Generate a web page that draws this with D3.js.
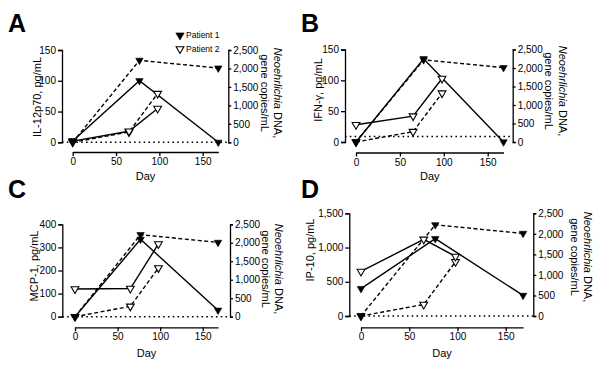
<!DOCTYPE html>
<html><head><meta charset="utf-8">
<script src="https://cdn.jsdelivr.net/npm/d3@7"></script>
<style>
html,body{margin:0;padding:0;background:#fff;}
svg{display:block;font-family:Arial,"Liberation Sans",sans-serif;}
</style></head>
<body>
<svg id="chart" width="600" height="365"></svg>
<script>
// ---- data ----
const days1 = [0, 77, 168];          // Patient 1 sampling days
const days2 = [0, 65, 98];           // Patient 2 sampling days
const dna1 = [0, 2220, 2010];        // Neoehrlichia DNA, Patient 1
const dna2 = [0, 280, 1320];         // Neoehrlichia DNA, Patient 2
const il12p70_1 = [2, 100, 0];
const il12p70_2 = [2, 18, 55];
const ifng_1 = [0, 135, 0];
const ifng_2 = [28, 42, 103];
const mcp1_1 = [0, 335, 28];
const mcp1_2 = [120, 122, 315];
const ip10_1 = [400, 1130, 300];
const ip10_2 = [650, 1120, 870];
const panelLetters = ["A", "B", "C", "D"];
const cytoLabels = ["IL-12p70, pg/mL", "IFN-\u03b3, pg/mL", "MCP-1, pg/mL", "IP-10, pg/mL"];
const leftTicks = [[0, 50, 100, 150], [0, 50, 100, 150], [0, 100, 200, 300, 400], [0, 500, 1000, 1500]];
const rightTicks = [0, 500, 1000, 1500, 2000, 2500];
const xTicks = [0, 50, 100, 150];
const thresholds = [0, 9, 0, 0];
const legendLabels = ["Patient 1", "Patient 2"];
const xLabel = "Day";
const cyto1 = [il12p70_1, ifng_1, mcp1_1, ip10_1];
const cyto2 = [il12p70_2, ifng_2, mcp1_2, ip10_2];

// ---- layout ----
const layouts = [
  {L:62, R:228.3, x0:72.7, x150:202.7, top:50, bot:142.3, ax:152, lx:8, ly:32, ltX:37, ltY:97, rtX:278.3, rtY:93, dayY:176},
  {L:345, R:512.7, x0:356, x150:487.7, top:49.5, bot:142, ax:152.5, lx:301, ly:32, ltX:318, ltY:90, rtX:562.5, rtY:91, dayY:176},
  {L:62.3, R:230, x0:75, x150:202.7, top:224.3, bot:316.7, ax:327.3, lx:8, ly:198, ltX:34, ltY:266, rtX:279, rtY:269, dayY:353},
  {L:349.3, R:533.3, x0:361, x150:505.7, top:213.3, bot:316, ax:327.3, lx:301, ly:198, ltX:310, ltY:250, rtX:588, rtY:257, dayY:353}
];

const svg = d3.select("#chart");
const fmt = d3.format(",");
const triDown = d3.symbol().type(d3.symbolTriangle);

layouts.forEach((lay, i) => {
  const g = svg.append("g");
  const x = d3.scaleLinear().domain([0, 150]).range([lay.x0, lay.x150]);
  const lt = leftTicks[i];
  const yL = d3.scaleLinear().domain([0, lt[lt.length - 1]]).range([lay.bot, lay.top]);
  const yR = d3.scaleLinear().domain([0, rightTicks[rightTicks.length - 1]]).range([lay.bot, lay.top]);

  // panel letter
  g.append("text").attr("x", lay.lx).attr("y", lay.ly)
    .attr("font-size", 25).attr("font-weight", "bold").text(panelLetters[i]);

  // axes
  const styleAxis = sel => {
    sel.select(".domain").attr("stroke", "#000").attr("stroke-width", 1.3);
    sel.selectAll(".tick line").attr("stroke", "#000").attr("stroke-width", 1.3);
    sel.selectAll(".tick text").attr("font-size", 10).attr("fill", "#000")
      .attr("font-family", "Arial, 'Liberation Sans', sans-serif");
  };
  g.append("g").attr("transform", `translate(${lay.L},0)`)
    .call(d3.axisLeft(yL).tickValues(lt).tickFormat(fmt).tickSize(4).tickSizeOuter(4).tickPadding(2))
    .call(styleAxis);
  g.append("g").attr("transform", `translate(${lay.R},0)`)
    .call(d3.axisRight(yR).tickValues(rightTicks).tickFormat(fmt).tickSize(3).tickSizeOuter(3).tickPadding(2))
    .call(styleAxis);
  const xa = d3.scaleLinear().domain([0, 168]).range([x(0), x(168)]);
  g.append("g").attr("transform", `translate(0,${lay.ax})`)
    .call(d3.axisBottom(xa).tickValues(xTicks).tickSize(4).tickSizeOuter(0).tickPadding(2))
    .call(styleAxis);

  // axis titles
  g.append("text").attr("transform", `translate(${lay.ltX},${lay.ltY}) rotate(-90)`)
    .attr("text-anchor", "middle").attr("dominant-baseline", "central")
    .attr("font-size", 11).text(cytoLabels[i]);
  const rt = g.append("text").attr("transform", `translate(${lay.rtX},${lay.rtY}) rotate(90)`)
    .attr("text-anchor", "middle").attr("font-size", 11);
  const l1 = rt.append("tspan").attr("x", 0).attr("y", 0).attr("dy", "0.35em");
  l1.append("tspan").attr("font-style", "italic").text("Neoehrlichia");
  l1.append("tspan").text(" DNA,");
  rt.append("tspan").attr("x", 0).attr("y", 0).attr("dy", "1.55em").text("gene copies/mL");
  g.append("text").attr("x", (x(0) + x(168)) / 2).attr("y", lay.dayY)
    .attr("text-anchor", "middle").attr("dominant-baseline", "central")
    .attr("font-size", 11).text(xLabel);

  // threshold dotted line
  g.append("line").attr("x1", lay.L).attr("x2", lay.R)
    .attr("y1", yL(thresholds[i])).attr("y2", yL(thresholds[i]))
    .attr("stroke", "#000").attr("stroke-width", 1.6).attr("stroke-dasharray", "1.6,3.2");

  const series = [
    {days: days2, vals: dna2, y: yR, dash: "4,2.5", open: true},
    {days: days2, vals: cyto2[i], y: yL, dash: null, open: true},
    {days: days1, vals: dna1, y: yR, dash: "4,2.5", open: false},
    {days: days1, vals: cyto1[i], y: yL, dash: null, open: false}
  ];
  series.forEach(s => {
    const line = d3.line().x((d, k) => x(s.days[k])).y(d => s.y(d));
    g.append("path").attr("d", line(s.vals)).attr("fill", "none")
      .attr("stroke", "#000").attr("stroke-width", 1.4)
      .attr("stroke-dasharray", s.dash);
  });
  // markers: patient 2 first, then patient 1 on top
  series.forEach(s => {
    g.selectAll(null).data(s.vals).enter().append("path")
      .attr("d", triDown.size(s.open ? 26 : 24)())
      .attr("transform", (d, k) => `translate(${x(s.days[k])},${s.y(d)}) rotate(180)`)
      .attr("fill", s.open ? "#fff" : "#000")
      .attr("stroke", "#000").attr("stroke-width", s.open ? 1.1 : 0.6);
  });

  // legend (panel A only)
  if (i === 0) {
    legendLabels.forEach((lab, k) => {
      const ly = 35.3 + k * 13.7;
      g.append("path").attr("d", triDown.size(k === 0 ? 30 : 26)())
        .attr("transform", `translate(180,${ly}) rotate(180)`)
        .attr("fill", k === 0 ? "#000" : "#fff").attr("stroke", "#000").attr("stroke-width", k === 0 ? 0.6 : 1.1);
      g.append("text").attr("x", 186).attr("y", ly).attr("dominant-baseline", "central")
        .attr("font-size", 8.5).text(lab);
    });
  }
});
</script>
</body></html>
